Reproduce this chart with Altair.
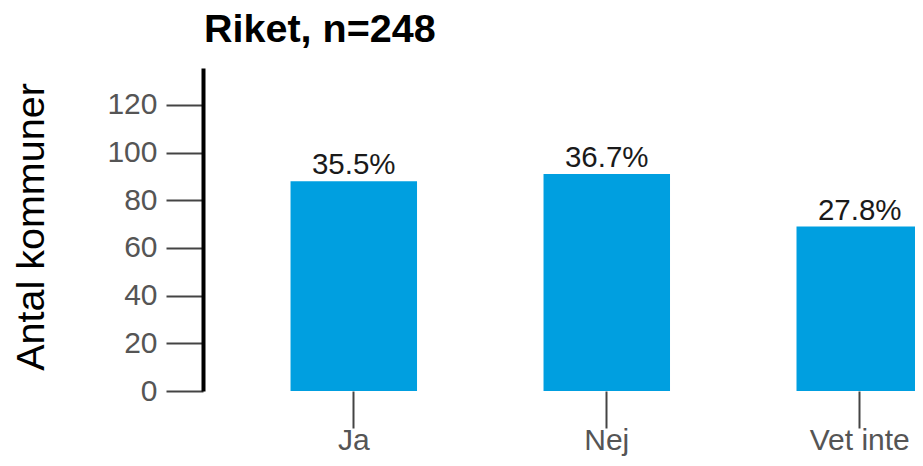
import altair as alt
import pandas as pd

title_text = "Riket, n=248"
categories = ["Ja", "Nej", "Vet inte"]
counts = [88, 91, 69]
pct_labels = ["35.5%", "36.7%", "27.8%"]

df = pd.DataFrame({"svar": categories, "antal": counts, "pct": pct_labels})
df_title = pd.DataFrame({"t": [title_text]})

FONT = "Liberation Sans"

x = alt.X(
    "svar:N",
    sort=categories,
    scale=alt.Scale(paddingInner=0.5, paddingOuter=0.173, align=1, range=[0, 720]),
    axis=alt.Axis(
        title=None,
        domain=False,
        ticks=True,
        tickSize=37,
        tickWidth=2,
        tickColor="#444444",
        labelColor="#555555",
        labelFontSize=30,
        labelFont=FONT,
        labelPadding=-3,
        labelAngle=0,
    ),
)
y = alt.Y(
    "antal:Q",
    scale=alt.Scale(domain=[0, 135.5], nice=False),
    axis=alt.Axis(
        title="Antal kommuner",
        values=[0, 20, 40, 60, 80, 100, 120],
        grid=False,
        domain=True,
        domainColor="#000000",
        domainWidth=4,
        tickSize=37,
        tickWidth=2,
        tickColor="#444444",
        labelColor="#555555",
        labelFontSize=30,
        labelFont=FONT,
        labelPadding=9,
        titleFont=FONT,
        titleFontSize=39.5,
        titleFontWeight="normal",
        titleColor="#000000",
        titleX=-160,
        titleY=158.5,
        titleAlign="center",
        titleBaseline="alphabetic",
        titleAngle=270,
    ),
)

bars = alt.Chart(df).mark_bar(color="#009FE0").encode(x=x, y=y)
texts = alt.Chart(df).mark_text(
    baseline="alphabetic", dy=-7, fontSize=29.5, font=FONT, color="#1a1a1a"
).encode(x=alt.X("svar:N", sort=categories), y="antal:Q", text="pct:N")
title = alt.Chart(df_title).mark_text(
    align="left", baseline="alphabetic", fontSize=39.5, fontWeight="bold",
    font=FONT, color="#000000"
).encode(x=alt.value(1), y=alt.value(-26), text="t:N")

chart = (
    alt.layer(bars, texts, title)
    .properties(
        width=712,
        height=323,
        autosize=alt.AutoSizeParams(type="none"),
        padding={"left": 195, "top": 60, "right": 0, "bottom": 67},
    )
    .configure_view(stroke=None)
)

chart.save("out.html", embed_options={"renderer": "svg", "actions": False})
